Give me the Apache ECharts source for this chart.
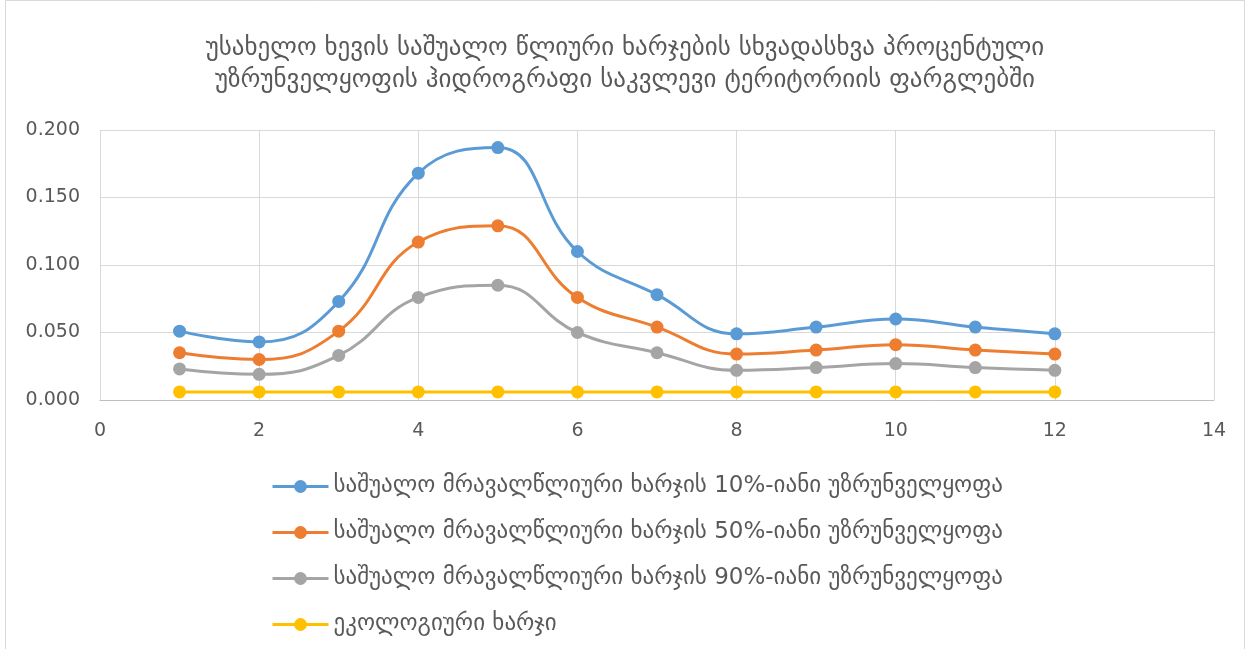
<!DOCTYPE html>
<html><head><meta charset="utf-8">
<script src="https://cdn.jsdelivr.net/npm/echarts@6/dist/echarts.min.js"></script>
<style>html,body{margin:0;padding:0;background:#fff}#c{width:1250px;height:649px}</style>
</head><body><div id="c"></div>
<script>
const titleText = "უსახელო ხევის საშუალო წლიური ხარჯების სხვადასხვა პროცენტული\nუზრუნველყოფის ჰიდროგრაფი საკვლევი ტერიტორიის ფარგლებში";
const months = [1,2,3,4,5,6,7,8,9,10,11,12];
const seriesNames = [
  "საშუალო მრავალწლიური ხარჯის 10%-იანი უზრუნველყოფა",
  "საშუალო მრავალწლიური ხარჯის 50%-იანი უზრუნველყოფა",
  "საშუალო მრავალწლიური ხარჯის 90%-იანი უზრუნველყოფა",
  "ეკოლოგიური ხარჯი"
];
const q10 = [0.051,0.043,0.073,0.168,0.187,0.110,0.078,0.049,0.054,0.060,0.054,0.049];
const q50 = [0.035,0.030,0.051,0.117,0.129,0.076,0.054,0.034,0.037,0.041,0.037,0.034];
const q90 = [0.023,0.019,0.033,0.076,0.085,0.050,0.035,0.022,0.024,0.027,0.024,0.022];
const eco = [0.006,0.006,0.006,0.006,0.006,0.006,0.006,0.006,0.006,0.006,0.006,0.006];
const colors = ["#5B9BD5","#ED7D31","#A5A5A5","#FFC000"];
const font = "DejaVu Sans";
const allData = [q10,q50,q90,eco];
const chart = echarts.init(document.getElementById('c'));
chart.setOption({
  animation:false,
  backgroundColor:'#fff',
  color:colors,
  textStyle:{fontFamily:font},
  title:{text:titleText,left:'center',top:27,textStyle:{fontFamily:font,fontSize:25,fontWeight:'normal',color:'#595959',lineHeight:32}},
  graphic:[{type:'rect',shape:{x:5.5,y:0.5,width:1239,height:660},style:{fill:'none',stroke:'#d9d9d9',lineWidth:1}}],
  legend:{orient:'vertical',left:266,top:470,itemGap:23,itemWidth:56,itemHeight:16,
    textStyle:{fontFamily:font,fontSize:23,color:'#595959'},
    data:seriesNames.map((n,i)=>({name:n,itemStyle:{color:colors[i]},lineStyle:{width:3,color:colors[i]}}))},
  grid:{left:100,right:36,top:130,bottom:249,containLabel:false},
  xAxis:{type:'value',min:0,max:14,interval:2,
    axisLine:{show:true,lineStyle:{color:'#bfbfbf',width:1}},axisTick:{show:false},
    axisLabel:{fontFamily:font,fontSize:19,color:'#595959',margin:22},
    splitLine:{show:true,lineStyle:{color:'#d9d9d9',width:1}}},
  yAxis:{type:'value',min:0,max:0.2,interval:0.05,
    axisLine:{show:false},axisTick:{show:false},
    axisLabel:{fontFamily:font,fontSize:19,color:'#595959',margin:20,formatter:v=>v.toFixed(3)},
    splitLine:{show:true,lineStyle:{color:'#d9d9d9',width:1}}},
  series: seriesNames.map((n,i)=>({
    name:n,type:'line',smooth:0.45,symbol:'circle',symbolSize:13,
    lineStyle:{width:3,color:colors[i]},itemStyle:{color:colors[i]},
    data: months.map((m,j)=>[m, allData[i][j]])
  }))
});
</script></body></html>
